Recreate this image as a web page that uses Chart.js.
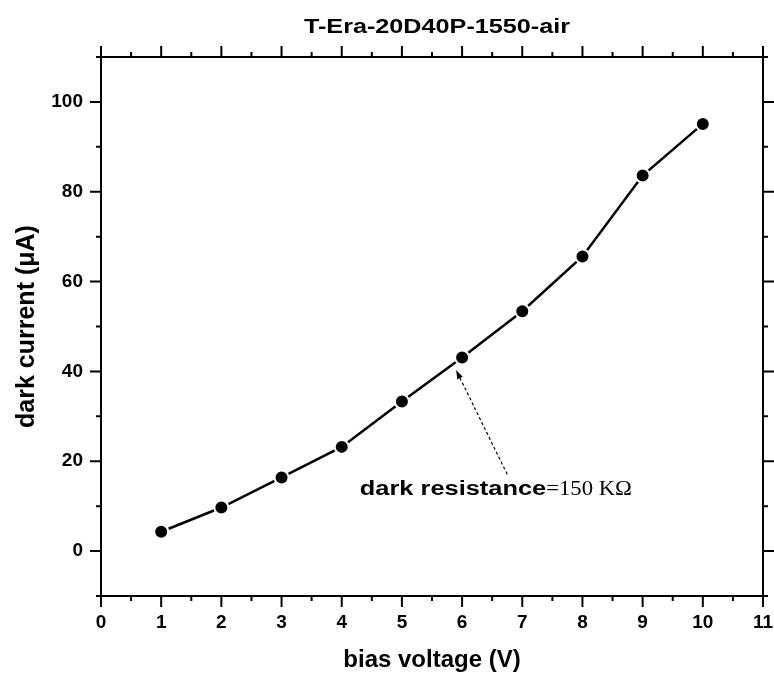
<!DOCTYPE html>
<html>
<head>
<meta charset="utf-8">
<script src="https://cdn.jsdelivr.net/npm/chart.js@4/dist/chart.umd.min.js"></script>
<style>html,body{margin:0;padding:0;background:#fff}</style>
</head>
<body>
<canvas id="chart" width="774" height="676"></canvas>
<script>
const biasVoltage = [1, 2, 3, 4, 5, 6, 7, 8, 9, 10];
const darkCurrent = [4.3, 9.7, 16.4, 23.2, 33.3, 43.1, 53.4, 65.6, 83.6, 95.1];
const xTicks = [0, 1, 2, 3, 4, 5, 6, 7, 8, 9, 10, 11];
const yTicks = [0, 20, 40, 60, 80, 100];
const chartTitle = "T-Era-20D40P-1550-air";
const noteBold = "dark resistance";
const noteValue = "=150 K\u03A9";
// annotation anchors in data units
const noteAt = [4.3, 12.5];
const arrowFrom = [6.75, 17.1];
const arrowTo = [5.9, 40.3];

function stretchText(ctx, text, x, y, sx) {
  ctx.save();
  ctx.translate(x, y);
  ctx.scale(sx, 1);
  ctx.fillText(text, 0, 0);
  ctx.restore();
  return ctx.measureText(text).width * sx;
}

const framePlugin = {
  id: "frame",
  afterDraw(chart) {
    const ctx = chart.ctx;
    const a = chart.chartArea;
    const xs = chart.scales.x, ys = chart.scales.y;
    ctx.save();
    ctx.strokeStyle = "#000";
    ctx.fillStyle = "#000";
    ctx.lineWidth = 2;
    ctx.strokeRect(a.left, a.top, a.right - a.left, a.bottom - a.top);

    // tick marks on all four sides, pointing out
    ctx.beginPath();
    for (let v = xs.min; v <= xs.max + 1e-9; v += 0.5) {
      const px = xs.getPixelForValue(v);
      const len = Number.isInteger(v) ? 11 : 5;
      ctx.moveTo(px, a.bottom); ctx.lineTo(px, a.bottom + len);
      ctx.moveTo(px, a.top); ctx.lineTo(px, a.top - len);
    }
    for (let v = ys.min; v <= ys.max + 1e-9; v += 10) {
      const py = ys.getPixelForValue(v);
      const len = v % 20 === 0 ? 11 : 5;
      ctx.moveTo(a.left - len, py); ctx.lineTo(a.left, py);
      ctx.moveTo(a.right, py); ctx.lineTo(a.right + len, py);
    }
    ctx.stroke();

    // title
    ctx.font = "bold 21px 'Liberation Sans', Arial, sans-serif";
    ctx.textBaseline = "alphabetic";
    const tw = ctx.measureText(chartTitle).width * 1.2;
    stretchText(ctx, chartTitle, 437 - tw / 2, 33, 1.2);

    // annotation text
    const nx = xs.getPixelForValue(noteAt[0]);
    const ny = ys.getPixelForValue(noteAt[1]);
    ctx.font = "bold 20px 'Liberation Sans', Arial, sans-serif";
    const w1 = stretchText(ctx, noteBold, nx, ny, 1.27);
    ctx.font = "21px 'Liberation Serif', 'Times New Roman', serif";
    stretchText(ctx, noteValue, nx + w1, ny, 1.08);

    // dashed arrow
    const x0 = xs.getPixelForValue(arrowFrom[0]), y0 = ys.getPixelForValue(arrowFrom[1]);
    const x1 = xs.getPixelForValue(arrowTo[0]), y1 = ys.getPixelForValue(arrowTo[1]);
    const ang = Math.atan2(y1 - y0, x1 - x0);
    const head = 9;
    ctx.lineWidth = 1.2;
    ctx.setLineDash([3, 2.5]);
    ctx.beginPath();
    ctx.moveTo(x0, y0);
    ctx.lineTo(x1 - head * Math.cos(ang), y1 - head * Math.sin(ang));
    ctx.stroke();
    ctx.setLineDash([]);
    ctx.beginPath();
    ctx.moveTo(x1, y1);
    ctx.lineTo(x1 - head * Math.cos(ang) + 3 * Math.sin(ang), y1 - head * Math.sin(ang) - 3 * Math.cos(ang));
    ctx.lineTo(x1 - head * Math.cos(ang) - 3 * Math.sin(ang), y1 - head * Math.sin(ang) + 3 * Math.cos(ang));
    ctx.closePath();
    ctx.fill();
    ctx.restore();
  }
};

const tickFont = { family: "'Liberation Sans', Arial, sans-serif", size: 19, weight: "bold" };
const titleFont = { family: "'Liberation Sans', Arial, sans-serif", size: 24, weight: "bold", lineHeight: 1 };
const hiddenGrid = { display: true, color: "rgba(0,0,0,0)", drawOnChartArea: false, tickLength: 11 };

new Chart(document.getElementById("chart"), {
  type: "line",
  data: {
    datasets: [{
      data: biasVoltage.map((v, i) => ({ x: v, y: darkCurrent[i] })),
      borderColor: "#000",
      borderWidth: 2.5,
      pointRadius: 7,
      pointBackgroundColor: "#000",
      pointBorderColor: "#fff",
      pointBorderWidth: 2,
      tension: 0
    }]
  },
  options: {
    responsive: false,
    animation: false,
    layout: { padding: { top: 57, right: 11, left: 0, bottom: 0 } },
    plugins: { legend: { display: false }, tooltip: { enabled: false } },
    scales: {
      x: {
        type: "linear", min: 0, max: 11,
        afterBuildTicks: s => { s.ticks = xTicks.map(v => ({ value: v })); },
        afterFit: s => { s.height = 80; s.paddingRight = 0; s.paddingLeft = 0; },
        grid: hiddenGrid,
        border: { display: false },
        ticks: { font: tickFont, color: "#000", padding: 4, maxRotation: 0, autoSkip: false },
        title: { display: true, text: "bias voltage (V)", font: titleFont, color: "#000", padding: { top: 4, bottom: 4 } }
      },
      y: {
        type: "linear", min: -10, max: 110,
        afterBuildTicks: s => { s.ticks = yTicks.map(v => ({ value: v })); },
        afterFit: s => { s.width = 101; },
        grid: hiddenGrid,
        border: { display: false },
        ticks: { font: tickFont, color: "#000", padding: 7, autoSkip: false },
        title: { display: true, text: "dark current (\u03BCA)", font: { ...titleFont, size: 25 }, color: "#000", padding: { top: 15, bottom: 4 } }
      }
    }
  },
  plugins: [framePlugin]
});
</script>
</body>
</html>
